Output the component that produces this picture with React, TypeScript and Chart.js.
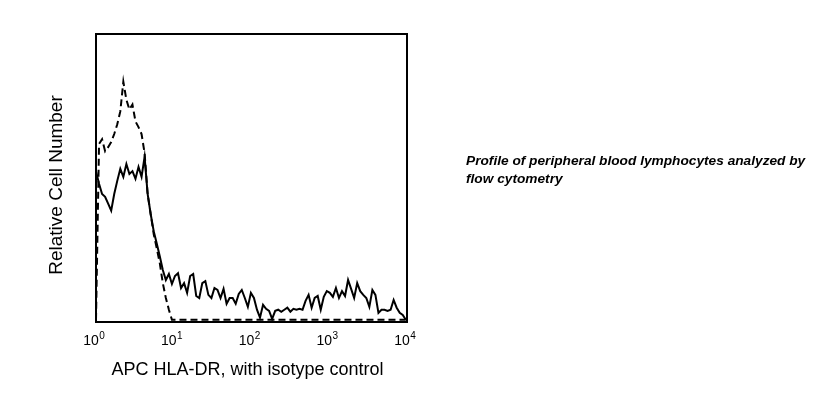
import React, { useEffect, useRef } from "react";
import { Chart, registerables } from "chart.js";

Chart.register(...registerables);

// Channel positions on a 1024-channel, 4-decade log scale
const channels = [
  0, 10, 20, 30, 40, 50, 60, 70, 80, 90,
  100, 110, 120, 130, 140, 150, 160, 170, 180, 190,
  200, 210, 220, 230, 240, 250, 260, 270, 280, 290,
  300, 310, 320, 330, 340, 350, 360, 370, 380, 390,
  400, 410, 420, 430, 440, 450, 460, 470, 480, 490,
  500, 510, 520, 530, 540, 550, 560, 570, 580, 590,
  600, 610, 620, 630, 640, 650, 660, 670, 680, 690,
  700, 710, 720, 730, 740, 750, 760, 770, 780, 790,
  800, 810, 820, 830, 840, 850, 860, 870, 880, 890,
  900, 910, 920, 930, 940, 950, 960, 970, 980, 990,
  1000, 1010, 1020,
];

// APC HLA-DR (solid)
const hlaDR = [
  52, 47.6, 44, 43, 40.6, 38.2, 44, 48.6, 52.8, 50,
  54.5, 51, 52, 49.3, 53.5, 50, 57, 44, 37, 31,
  26.7, 22.2, 17.4, 13.9, 16, 12.5, 15.3, 16.3, 11.1, 12.8,
  9.4, 15.3, 16, 8.3, 7.6, 12.8, 13.5, 8.7, 7.6, 11.1,
  10.4, 7.6, 10.8, 5.6, 7.6, 7.6, 5.6, 9, 10.4, 7.6,
  4.5, 9.4, 7.6, 3.5, 0.7, 5.2, 3.8, 3.1, 0.3, 3.1,
  3.5, 2.8, 3.5, 4.2, 2.8, 3.8, 3.5, 3.8, 3.5, 6.6,
  8.7, 4.2, 7.6, 8.3, 3.5, 8, 10, 9.4, 8, 11.1,
  7.6, 10, 8.3, 13.9, 10.8, 7.6, 12.8, 10, 8.7, 7.6,
  4.5, 10.4, 8.7, 2.4, 3.5, 3.5, 3.1, 3.5, 6.9, 4.2,
  2.4, 1.7, 0,
];

// Isotype control (dashed)
const isotype = [
  0, 61.5, 63.2, 59, 60.4, 62.2, 65, 68.4, 72.9, 83.3,
  77, 73.6, 75.3, 69.4, 67.4, 65, 58.3, 44, 37, 30,
  25, 19.8, 12.8, 7.6, 3.5, 0, 0, 0, 0, 0,
  0, 0, 0, 0, 0, 0, 0, 0, 0, 0,
  0, 0, 0, 0, 0, 0, 0, 0, 0, 0,
  0, 0, 0, 0, 0, 0, 0, 0, 0, 0,
  0, 0, 0, 0, 0, 0, 0, 0, 0, 0,
  0, 0, 0, 0, 0, 0, 0, 0, 0, 0,
  0, 0, 0, 0, 0, 0, 0, 0, 0, 0,
  0, 0, 0, 0, 0, 0, 0, 0, 0, 0,
  0, 0, 0,
];

const tickChannels = [0, 256, 512, 768, 1024];
const tickExponents = ["0", "1", "2", "3", "4"];

const xTitle = "APC HLA-DR, with isotype control";
const yTitle = "Relative Cell Number";
const captionLines = [
  "Profile of peripheral blood lymphocytes analyzed by",
  "flow cytometry",
];

const FONT = '"Liberation Sans", Arial, Helvetica, sans-serif';

const decorPlugin = {
  id: "decor",
  afterDraw(chart: any) {
    const { ctx, chartArea } = chart;
    const xs = chart.scales.x;
    ctx.save();
    // frame
    ctx.strokeStyle = "#000";
    ctx.lineWidth = 2;
    ctx.strokeRect(
      chartArea.left,
      chartArea.top,
      chartArea.right - chartArea.left,
      chartArea.bottom - chartArea.top
    );
    // tick labels 10^n
    ctx.fillStyle = "#000";
    ctx.textBaseline = "alphabetic";
    ctx.textAlign = "left";
    tickChannels.forEach((c, i) => {
      const px = xs.getPixelForValue(c);
      ctx.font = `14px ${FONT}`;
      const w = ctx.measureText("10").width;
      const start = px - 5 - w / 2;
      ctx.fillText("10", start, chartArea.bottom + 23);
      ctx.font = `10px ${FONT}`;
      ctx.fillText(tickExponents[i], start + w + 0.5, chartArea.bottom + 17);
    });
    // x title
    ctx.font = `18px ${FONT}`;
    ctx.textAlign = "center";
    ctx.fillText(xTitle, (chartArea.left + chartArea.right) / 2 - 4, chartArea.bottom + 53);
    // y title
    ctx.save();
    ctx.translate(62, (chartArea.top + chartArea.bottom) / 2 + 7);
    ctx.rotate(-Math.PI / 2);
    ctx.font = `19px ${FONT}`;
    ctx.textAlign = "center";
    ctx.fillText(yTitle, 0, 0);
    ctx.restore();
    // caption
    ctx.font = `italic bold 13.7px ${FONT}`;
    ctx.textAlign = "left";
    captionLines.forEach((line, i) => {
      ctx.fillText(line, 466, 165 + i * 18);
    });
    ctx.restore();
  },
};

export default function App() {
  const ref = useRef<HTMLCanvasElement>(null);
  useEffect(() => {
    if (!ref.current) return;
    const chart = new Chart(ref.current, {
      type: "line",
      data: {
        datasets: [
          {
            label: "HLA-DR",
            data: channels.map((c, i) => ({ x: c, y: hlaDR[i] })),
            borderColor: "#000",
            borderWidth: 2,
            pointRadius: 0,
            tension: 0,
            fill: false,
          },
          {
            label: "Isotype",
            data: channels.map((c, i) => ({ x: c, y: isotype[i] })),
            borderColor: "#000",
            borderWidth: 2,
            borderDash: [7, 4],
            pointRadius: 0,
            tension: 0,
            fill: false,
          },
        ],
      },
      options: {
        responsive: false,
        animation: false,
        devicePixelRatio: 1,
        layout: { padding: { left: 96, top: 34, right: 420, bottom: 71 } },
        plugins: { legend: { display: false }, tooltip: { enabled: false } },
        scales: {
          x: { type: "linear", min: 0, max: 1024, display: false },
          y: { type: "linear", min: -0.8, max: 100, display: false },
        },
      },
      plugins: [decorPlugin],
    });
    return () => chart.destroy();
  }, []);
  return (
    <div style={{ position: "absolute", left: 0, top: 0, width: 827, height: 393, background: "#fff" }}>
      <canvas ref={ref} width={827} height={393} style={{ width: 827, height: 393 }} />
    </div>
  );
}
